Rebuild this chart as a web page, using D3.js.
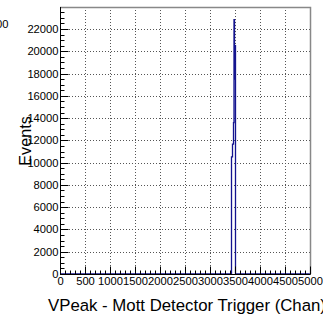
<!DOCTYPE html>
<html>
<head>
<meta charset="utf-8">
<script src="https://cdn.jsdelivr.net/npm/d3@7"></script>
<style>
  html, body { margin: 0; padding: 0; background: #fff; }
  svg { display: block; }
  text { font-family: "Liberation Sans", Arial, Helvetica, sans-serif; fill: #000; }
</style>
</head>
<body>
<svg id="chart" width="323" height="322"></svg>
<script>
// Histogram contents: bin low edges (Chan) and counts, bin width 10
const binWidth = 10;
const binLow   = [3420, 3430, 3440, 3450, 3460, 3470, 3480, 3490, 3500, 3510];
const counts   = [0, 10520, 10520, 11660, 11660, 13600, 22840, 17500, 20500, 0];

const xMajorTicks = [0, 500, 1000, 1500, 2000, 2500, 3000, 3500, 4000, 4500, 5000];
const yMajorTicks = [0, 2000, 4000, 6000, 8000, 10000, 12000, 14000, 16000, 18000, 20000, 22000];

const xTitle = "VPeak - Mott Detector Trigger (Chan)";
const yTitle = "Events";

const svg = d3.select("#chart");
const frame = { left: 60, right: 310, top: 7, bottom: 274 };

const yMax = d3.max(counts) * 1.05;
const x = d3.scaleLinear().domain([0, 5000]).range([frame.left, frame.right]);
const y = d3.scaleLinear().domain([0, yMax]).range([frame.bottom, frame.top]);

// Dotted grid at major ticks
const grid = svg.append("g")
  .attr("stroke", "#555").attr("stroke-width", 1).attr("stroke-dasharray", "1,2");
grid.selectAll("line.vx").data(xMajorTicks.filter(d => d > 0 && d < 5000)).join("line")
  .attr("x1", d => Math.round(x(d)) + 0.5).attr("x2", d => Math.round(x(d)) + 0.5)
  .attr("y1", frame.top).attr("y2", frame.bottom);
grid.selectAll("line.hy").data(yMajorTicks.filter(d => d > 0)).join("line")
  .attr("y1", d => Math.round(y(d)) + 0.5).attr("y2", d => Math.round(y(d)) + 0.5)
  .attr("x1", frame.left).attr("x2", frame.right);

// Histogram outline as a step line
const line = d3.line().x(d => x(d[0])).y(d => y(d[1])).curve(d3.curveStepAfter);
const stepPts = [[0, 0]];
binLow.forEach((lo, i) => stepPts.push([lo, counts[i]]));
stepPts.push([binLow[binLow.length - 1] + binWidth, 0]);
stepPts.push([5000, 0]);
svg.append("path")
  .attr("d", line(stepPts))
  .attr("fill", "none")
  .attr("stroke", "#14148f")
  .attr("stroke-width", 1.3);

// Frame: top and right edges
svg.append("path")
  .attr("d", `M${frame.left},${frame.top + 0.5}H${frame.right + 0.5}V${frame.bottom}`)
  .attr("fill", "none").attr("stroke", "#888").attr("stroke-width", 1.5);

// Y axis: major and minor ticks drawn inside the frame
const yAxis = d3.axisLeft(y).tickValues(yMajorTicks).tickSize(-8).tickPadding(2)
  .tickFormat(d3.format("d"));
const gy = svg.append("g").attr("transform", `translate(${frame.left + 0.5},0)`).call(yAxis);
gy.select(".domain").attr("d", `M0,${frame.top}V${frame.bottom + 0.5}`);
gy.selectAll(".tick").attr("transform", d => `translate(0,${Math.round(y(d)) + 0.5})`);
gy.selectAll(".tick text").attr("font-size", 11.2).attr("font-family", "Liberation Sans, Arial, sans-serif");
const yMinor = d3.range(500, yMax, 500).filter(v => v % 2000 !== 0);
gy.selectAll("line.minor").data(yMinor).join("line").attr("class", "minor")
  .attr("x1", 0).attr("x2", 4)
  .attr("y1", d => Math.round(y(d)) + 0.5).attr("y2", d => Math.round(y(d)) + 0.5)
  .attr("stroke", "#000");

// X axis: major and minor ticks drawn inside the frame
const xAxis = d3.axisBottom(x).tickValues(xMajorTicks).tickSize(-8).tickPadding(3)
  .tickFormat(d3.format("d"));
const gx = svg.append("g").attr("transform", `translate(0,${frame.bottom + 0.5})`).call(xAxis);
gx.select(".domain").attr("d", `M${frame.left},0H${frame.right + 0.5}`);
gx.selectAll(".tick").attr("transform", d => `translate(${Math.round(x(d)) + 0.5},0)`);
gx.selectAll(".tick text").attr("font-size", 11.2).attr("font-family", "Liberation Sans, Arial, sans-serif");
const xMinor = d3.range(100, 5000, 100).filter(v => v % 500 !== 0);
gx.selectAll("line.minor").data(xMinor).join("line").attr("class", "minor")
  .attr("y1", 0).attr("y2", -4)
  .attr("x1", d => Math.round(x(d)) + 0.5).attr("x2", d => Math.round(x(d)) + 0.5)
  .attr("stroke", "#000");

// Axis titles
svg.append("text")
  .attr("x", 48).attr("y", 311)
  .attr("text-anchor", "start")
  .attr("font-size", 16.8)
  .text(xTitle);
svg.append("text")
  .attr("transform", "translate(31,141) rotate(-90)")
  .attr("text-anchor", "middle")
  .attr("font-size", 16.2)
  .text(yTitle);

// Label fragment at the upper left
svg.append("text")
  .attr("x", 8.5).attr("y", 28)
  .attr("text-anchor", "end")
  .attr("font-size", 11.2)
  .text("00");
</script>
</body>
</html>
